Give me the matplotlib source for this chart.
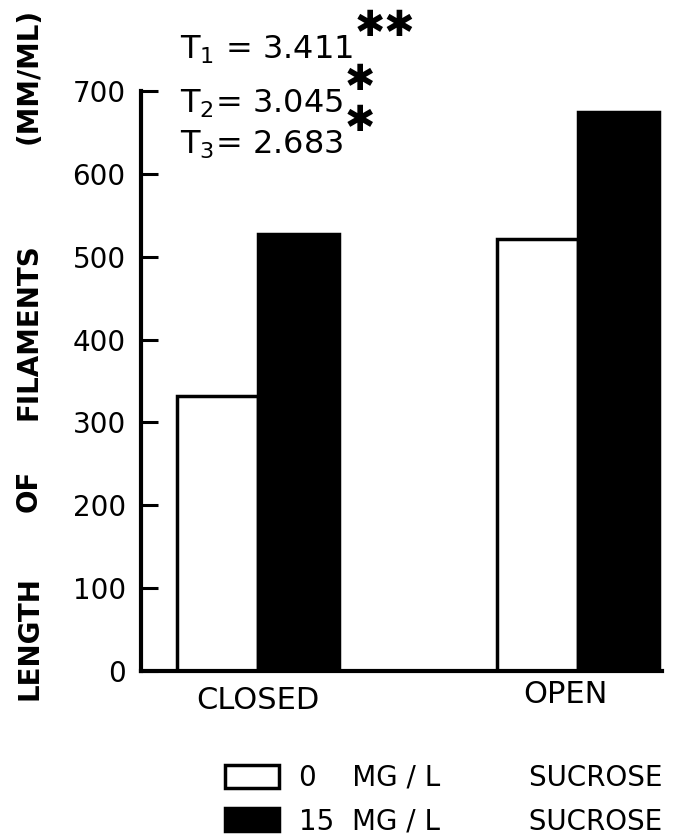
import matplotlib
matplotlib.use("Agg")
import matplotlib.pyplot as plt
from matplotlib.patches import Patch

categories = ["CLOSED", "OPEN"]
series_names = ["0    MG / L          SUCROSE", "15  MG / L          SUCROSE"]
values_0 = [332, 521]
values_15 = [528, 675]
yticks = [0, 100, 200, 300, 400, 500, 600, 700]
ylabel_words = ["LENGTH", "OF", "FILAMENTS", "(MM/ML)"]
t_names = ["T$_\\mathregular{1}$ = ", "T$_\\mathregular{2}$= ", "T$_\\mathregular{3}$= "]
t_values = ["3.411", "3.045", "2.683"]
t_stars = ["✱✱", "✱", "✱"]

plt.rcParams['font.family'] = ['DejaVu Sans']

fig = plt.figure(figsize=(6.83, 8.34), dpi=100)
ax = fig.add_axes([141/683, (834-671)/834, (662-141)/683, (671-91)/834])

pos = [0, 1]
w = 0.253
lw = 2.5
ax.bar([p - w/2 for p in pos], values_0, width=w, facecolor='white', edgecolor='black', linewidth=lw, zorder=2)
ax.bar([p + w/2 for p in pos], values_15, width=w, facecolor='black', edgecolor='black', linewidth=lw, zorder=2)

ax.set_xlim(-0.366, 1.2625)
ax.set_ylim(0, 700)
ax.set_yticks(yticks)
ax.set_yticklabels([str(v) for v in yticks], fontsize=20)
ax.tick_params(axis='y', direction='in', length=12, width=2.2, pad=11)
ax.set_xticks([])
for s in ['top', 'right']:
    ax.spines[s].set_visible(False)
for s in ['left', 'bottom']:
    ax.spines[s].set_linewidth(3)

# category labels
label_offsets = [(0.0, -21), (-0.04, -17)]
for p, c, (dx, dy) in zip(pos, categories, label_offsets):
    ax.annotate(c, xy=(p + dx, 0), xycoords='data', xytext=(0, dy), textcoords='offset points',
                ha='center', va='center', fontsize=22)

# y label words
ylabel_y = [638, 491, 332, 76]
for word, y in zip(ylabel_words, ylabel_y):
    fig.text(29/683, 1 - y/834, word, rotation=90, ha='center', va='center',
             fontsize=20, fontweight='bold')

# T statistics
t_y = [50, 104, 145]
for name, val, star, y in zip(t_names, t_values, t_stars, t_y):
    txt = fig.text(180/683, 1 - y/834, name + val, fontsize=23, ha='left', va='center')
    ax.annotate(star, xy=(1.0, 0.5), xycoords=txt, xytext=(1, 17), textcoords='offset points',
                ha='left', va='center', fontsize=26)

handles = [Patch(facecolor='white', edgecolor='black', linewidth=2.5),
           Patch(facecolor='black', edgecolor='black', linewidth=2.5)]
fig.legend(handles, series_names, loc='lower left', bbox_to_anchor=(200/683, -26/834),
           frameon=False, fontsize=20, handlelength=1.95, handleheight=0.9, handletextpad=0.7,
           labelspacing=0.55)

fig.savefig("out.png", dpi=100)
